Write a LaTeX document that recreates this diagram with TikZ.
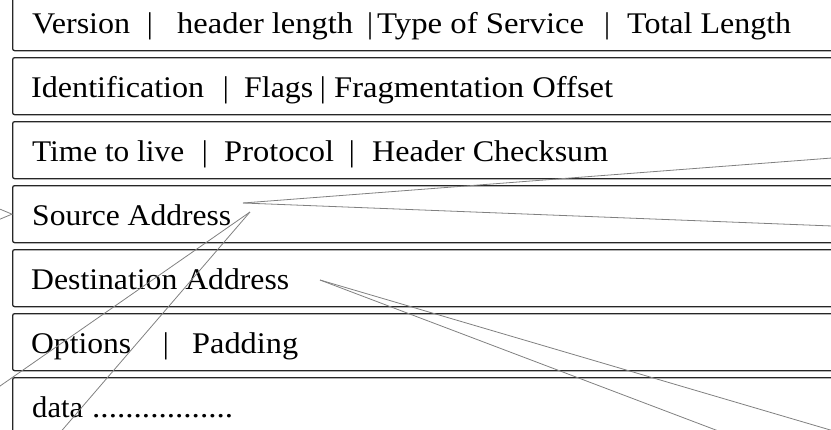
\documentclass[tikz,border=0pt]{standalone}
\usepackage{fontspec}
\setmainfont{Liberation Serif}
\usetikzlibrary{calc}
\tikzset{
  field/.style={draw=black!85, line width=1.3pt, rounded corners=2pt,
    anchor=north west, minimum width=850pt, minimum height=57pt, inner sep=0pt},
  lbl/.style={anchor=base west, inner sep=0pt, font=\fontsize{30}{36}\selectfont},
  sep/.style={anchor=base, inner sep=0pt, font=\fontsize{30}{36}\selectfont},
  link/.style={draw=black!50, line width=0.8pt},
}
% stretch a label horizontally to a given width (pt), keeping its height
\newcommand\fitw[2]{\resizebox{#1pt}{\height}{#2}}
\begin{document}
\begin{tikzpicture}[x=1pt,y=-1pt]
\useasboundingbox (0,0) rectangle (831,429);

% header fields, one row each
\node[field] (f1) at (12,-7)  {};
\node[field] (f2) at (12,57)  {};
\node[field] (f3) at (12,121) {};
\node[field] (f4) at (12,185) {};
\node[field] (f5) at (12,249) {};
\node[field] (f6) at (12,313) {};
\node[field] (f7) at (12,377) {};

% row 1
\node[lbl] (ver) at (32,33)  {\fitw{98}{Version}};
\node[sep] (s11) at (150,33) {|};
\node[lbl] (hl)  at (177,33) {\fitw{176}{header length}};
\node[sep] (s12) at (370,33) {|};
\node[lbl] (tos) at (377,33) {\fitw{207}{Type of Service}};
\node[sep] (s13) at (607,33) {|};
\node[lbl] (tl)  at (627,33) {\fitw{164}{Total Length}};

% row 2
\node[lbl] (id)  at (31,97)  {\fitw{173}{Identification}};
\node[sep] (s21) at (226,97) {|};
\node[lbl] (fl)  at (244,97) {\fitw{69}{Flags}};
\node[sep] (s22) at (323,97) {|};
\node[lbl] (fo)  at (334,97) {\fitw{279}{Fragmentation Offset}};

% row 3
\node[lbl] (ttl) at (32,161) {\fitw{152}{Time to live}};
\node[sep] (s31) at (205,161) {|};
\node[lbl] (pr)  at (224,161) {\fitw{110}{Protocol}};
\node[sep] (s32) at (352,161) {|};
\node[lbl] (hc)  at (372,161) {\fitw{236}{Header Checksum}};

% rows 4 to 7
\node[lbl] (sa)  at (32,225) {\fitw{199}{Source Address}};
\node[lbl] (da)  at (31,289) {\fitw{258}{Destination Address}};
\node[lbl] (op)  at (31,353) {\fitw{100}{Options}};
\node[sep] (s61) at (166,353) {|};
\node[lbl] (pd)  at (192,353) {\fitw{106}{Padding}};
\node[lbl] (dt)  at (32,417) {\fitw{51}{data}};
\node[lbl] (dots) at (92,417) {\fitw{141}{.................}};

% connector ends
\coordinate (srcR) at (243,203);
\coordinate (srcL) at (250,212);
\coordinate (dstR) at (320,280);
\coordinate (o1) at (845,157);
\coordinate (o2) at (845,226.5);
\coordinate (o3) at (-10,393);
\coordinate (o4) at (58,435);
\coordinate (o5) at (845,434.3);
\coordinate (o6) at (729,435);

% connectors
\draw[link] (srcR) -- (o1);
\draw[link] (srcR) -- (o2);
\draw[link] (srcL) -- (o3);
\draw[link] (srcL) -- (o4);
\draw[link] (dstR) -- (o5);
\draw[link] (dstR) -- (o6);

% incoming arrowhead on the source address field
\draw[link] ($(f4.west)+(-12,-5)$) -- (f4.west) -- ($(f4.west)+(-12,5)$);
\end{tikzpicture}
\end{document}
